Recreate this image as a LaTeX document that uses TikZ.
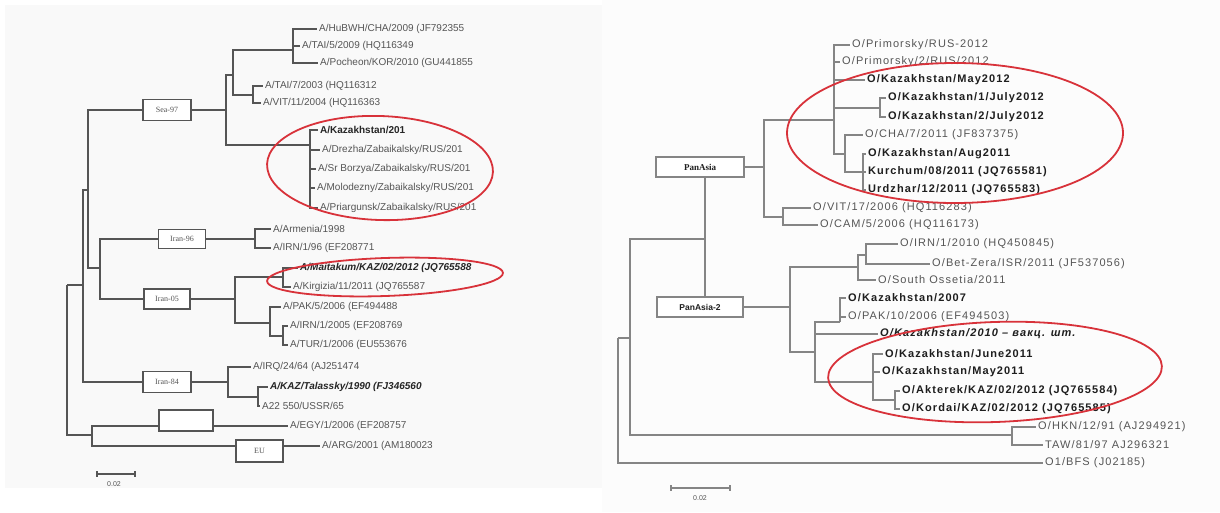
\documentclass[tikz,border=0pt]{standalone}
\usepackage{fontspec}
\setmainfont{Liberation Sans}
\newfontfamily\rfont{Liberation Sans}[LetterSpace=10]
\newfontfamily\sfont{Liberation Serif}
\definecolor{lg}{HTML}{555555}
\definecolor{rl}{HTML}{858585}
\definecolor{rt}{HTML}{555555}
\definecolor{rb}{HTML}{1E1E1E}
\definecolor{ered}{HTML}{D8323A}
\definecolor{bgl}{HTML}{F9F9F9}
\definecolor{bgr}{HTML}{FCFCFC}
\tikzset{
  lbr/.style={draw=lg, line width=1.5pt},
  rbr/.style={draw=rl, line width=1.2pt},
  lleaf/.style={anchor=west, inner xsep=2pt, inner ysep=0pt, text=lg, font=\fontsize{10}{11}\selectfont},
  lbold/.style={lleaf, text=black!85, font=\fontsize{10}{11}\selectfont\bfseries},
  lbit/.style={lleaf, text=black!85, font=\fontsize{10}{11}\selectfont\bfseries\itshape},
  rleaf/.style={anchor=west, inner xsep=2pt, inner ysep=0pt, text=rt, font=\rfont\fontsize{11}{12}\selectfont},
  rbold/.style={rleaf, text=rb, font=\rfont\fontsize{11}{12}\selectfont\bfseries},
  rbit/.style={rleaf, text=rb, font=\rfont\fontsize{11}{12}\selectfont\bfseries\itshape},
  lbox/.style={draw=lg, line width=1.5pt, fill=white, inner sep=0pt, text=lg, font=\sfont\fontsize{8}{9}\selectfont},
  rbox/.style={draw=rl, line width=1.5pt, fill=white, inner sep=0pt, text=rb, font=\fontsize{8.5}{9}\selectfont\bfseries},
  oval/.style={draw=ered, line width=1.8pt},
  sclab/.style={inner sep=0pt, text=rt, font=\fontsize{7}{8}\selectfont}
}
\begin{document}
\begin{tikzpicture}[x=1pt,y=-1pt]
\useasboundingbox (0,0) rectangle (1220,512);
\fill[bgl] (5,5) rectangle (602,488);
\fill[bgr] (602,0) rectangle (1220,512);

% ================= LEFT TREE =================
\node[lleaf] (hubwh) at (317,29) {A/HuBWH/CHA/2009 (JF792355};
\node[lleaf] (tai5) at (300,46) {A/TAI/5/2009 (HQ116349};
\node[lleaf] (poch) at (318,63) {A/Pocheon/KOR/2010 (GU441855};
\node[lleaf] (tai7) at (263,86) {A/TAI/7/2003 (HQ116312};
\node[lleaf] (vit11) at (261,103) {A/VIT/11/2004 (HQ116363};
\node[lbold] (kaz) at (318,130) {A/Kazakhstan/201};
\node[lleaf] (drez) at (320,150) {A/Drezha/Zabaikalsky/RUS/201};
\node[lleaf] (srb) at (316,169) {A/Sr Borzya/Zabaikalsky/RUS/201};
\node[lleaf] (molo) at (315,188) {A/Molodezny/Zabaikalsky/RUS/201};
\node[lleaf] (priar) at (318,208) {A/Priargunsk/Zabaikalsky/RUS/201};
\node[lleaf] (arm) at (271,229) {A/Armenia/1998};
\node[lleaf] (irn96) at (271,248) {A/IRN/1/96 (EF208771};
\node[lbit] (mait) at (298,268) {A/Maitakum/KAZ/02/2012 (JQ765588};
\node[lleaf] (kirg) at (291,287) {A/Kirgizia/11/2011 (JQ765587};
\node[lleaf] (pak5) at (281,307) {A/PAK/5/2006 (EF494488};
\node[lleaf] (irn05) at (288,326) {A/IRN/1/2005 (EF208769};
\node[lleaf] (tur) at (288,345) {A/TUR/1/2006 (EU553676};
\node[lleaf] (irq) at (251,367) {A/IRQ/24/64 (AJ251474};
\node[lbit] (kaztal) at (268,387) {A/KAZ/Talassky/1990 (FJ346560};
\node[lleaf] (a22) at (260,406) {A22 550/USSR/65};
\node[lleaf] (egy) at (288,426) {A/EGY/1/2006 (EF208757};
\node[lleaf] (arg) at (320,446) {A/ARG/2001 (AM180023};

\node[lbox, minimum width=48pt, minimum height=21pt] (sea) at (167,110) {Sea-97};
\node[lbox, minimum width=47pt, minimum height=19pt] (i96) at (182,239) {Iran-96};
\node[lbox, minimum width=46pt, minimum height=20pt] (i05) at (167,299) {Iran-05};
\node[lbox, minimum width=48pt, minimum height=21pt] (i84) at (167,382) {Iran-84};

\coordinate (LR) at (67,285);
\coordinate (L1) at (83,285);
\coordinate (L2) at (88,190);
\coordinate (L3) at (226,110);
\coordinate (L4) at (233,75);
\coordinate (L5) at (293,50);
\coordinate (L6) at (253,95);
\coordinate (L7) at (310,145);
\coordinate (L9) at (100,268);
\coordinate (L10) at (255,239);
\coordinate (L11) at (235,299);
\coordinate (L12) at (283,277);
\coordinate (L13) at (270,323);
\coordinate (L14) at (283,336);
\coordinate (L15) at (228,382);
\coordinate (L16) at (258,397);
\coordinate (L17) at (92,435);

\draw[lbr] (LR) -- (L1);
\draw[lbr] (LR) |- (L17);
\draw[lbr] (L1) |- (L2);
\draw[lbr] (L1) |- (i84.west);
\draw[lbr] (L2) |- (sea.west);
\draw[lbr] (L2) |- (L9);
\draw[lbr] (sea.east) -- (L3);
\draw[lbr] (L3) |- (L4);
\draw[lbr] (L3) |- (L7);
\draw[lbr] (L4) |- (L5);
\draw[lbr] (L4) |- (L6);
\draw[lbr] (L5) |- (hubwh.west);
\draw[lbr] (L5) |- (tai5.west);
\draw[lbr] (L5) |- (poch.west);
\draw[lbr] (L6) |- (tai7.west);
\draw[lbr] (L6) |- (vit11.west);
\foreach \n in {kaz,drez,srb,molo,priar} \draw[lbr] (L7) |- (\n.west);
\draw[lbr] (L9) |- (i96.west);
\draw[lbr] (L9) |- (i05.west);
\draw[lbr] (i96.east) -- (L10);
\draw[lbr] (L10) |- (arm.west);
\draw[lbr] (L10) |- (irn96.west);
\draw[lbr] (i05.east) -- (L11);
\draw[lbr] (L11) |- (L12);
\draw[lbr] (L11) |- (L13);
\draw[lbr] (L12) |- (mait.west);
\draw[lbr] (L12) |- (kirg.west);
\draw[lbr] (L13) |- (pak5.west);
\draw[lbr] (L13) |- (L14);
\draw[lbr] (L14) |- (irn05.west);
\draw[lbr] (L14) |- (tur.west);
\draw[lbr] (i84.east) -- (L15);
\draw[lbr] (L15) |- (irq.west);
\draw[lbr] (L15) |- (L16);
\draw[lbr] (L16) |- (kaztal.west);
\draw[lbr] (L16) |- (a22.west);
\draw[lbr] (L17) |- (egy.west);
\draw[lbr, line width=2.6pt] (L17) |- (arg.west);
\node[lbox, minimum width=54pt, minimum height=21pt] (emp) at (186,420.5) {};
\node[lbox, minimum width=47pt, minimum height=22pt] (eu) at (259.5,451) {EU};

\coordinate (sl1) at (97,474);
\coordinate (sl2) at (135,474);
\draw[draw=lg, line width=1.2pt] (sl1) -- (sl2);
\draw[draw=lg, line width=1.2pt] ([yshift=3pt]sl1) -- ([yshift=-3pt]sl1);
\draw[draw=lg, line width=1.2pt] ([yshift=3pt]sl2) -- ([yshift=-3pt]sl2);
\node[sclab, text=lg] (sll) at (114,484) {0.02};

\draw[oval, rotate around={-2:(380,168)}] (380,168) ellipse [x radius=113, y radius=52];
\draw[oval, rotate around={2:(385,277)}] (385,277) ellipse [x radius=118, y radius=19];

% ================= RIGHT TREE =================
\node[rleaf] (prim1) at (850,45) {O/Primorsky/RUS-2012};
\node[rleaf] (prim2) at (840,62) {O/Primorsky/2/RUS/2012};
\node[rbold] (may12) at (865,80) {O/Kazakhstan/May2012};
\node[rbold] (jul1) at (886,98) {O/Kazakhstan/1/July2012};
\node[rbold] (jul2) at (886,117) {O/Kazakhstan/2/July2012};
\node[rleaf] (cha) at (863,135) {O/CHA/7/2011 (JF837375)};
\node[rbold] (aug11) at (866,154) {O/Kazakhstan/Aug2011};
\node[rbold] (kurch) at (866,172) {Kurchum/08/2011 (JQ765581)};
\node[rbold] (urdz) at (866,190) {Urdzhar/12/2011 (JQ765583)};
\node[rleaf] (vit17) at (811,208) {O/VIT/17/2006 (HQ116283)};
\node[rleaf] (cam) at (818,225) {O/CAM/5/2006 (HQ116173)};
\node[rleaf] (irn10) at (898,244) {O/IRN/1/2010 (HQ450845)};
\node[rleaf] (betz) at (930,264) {O/Bet-Zera/ISR/2011 (JF537056)};
\node[rleaf] (osset) at (876,280) {O/South Ossetia/2011};
\node[rbold] (kaz07) at (846,298) {O/Kazakhstan/2007};
\node[rleaf] (pak10) at (846,317) {O/PAK/10/2006 (EF494503)};
\node[rbit] (kaz10) at (878,334) {O/Kazakhstan/2010 – вакц. шт.};
\node[rbold] (jun11) at (883,354) {O/Kazakhstan/June2011};
\node[rbold] (may11) at (880,372) {O/Kazakhstan/May2011};
\node[rbold] (akt) at (900,391) {O/Akterek/KAZ/02/2012 (JQ765584)};
\node[rbold] (kord) at (900,409) {O/Kordai/KAZ/02/2012 (JQ765585)};
\node[rleaf] (hkn) at (1036,427) {O/HKN/12/91 (AJ294921)};
\node[rleaf] (taw) at (1043,445) {TAW/81/97 AJ296321};
\node[rleaf] (bfs) at (1043,463) {O1/BFS (J02185)};

\node[rbox, minimum width=88pt, minimum height=20pt, font=\sfont\fontsize{9}{10}\selectfont\bfseries] (pa) at (700,167) {PanAsia};
\node[rbox, minimum width=86pt, minimum height=20pt] (pa2) at (700,307) {PanAsia-2};

\coordinate (RR) at (618,338);
\coordinate (R1) at (630,338);
\coordinate (R2) at (705,239);
\coordinate (R3) at (764,167);
\coordinate (R4) at (834,120);
\coordinate (R5) at (880,108);
\coordinate (R6) at (845,154);
\coordinate (R7) at (863,172);
\coordinate (R8) at (783,217);
\coordinate (R9) at (790,307);
\coordinate (R10) at (858,267);
\coordinate (R11) at (866,255);
\coordinate (R12) at (815,352);
\coordinate (R13) at (840,322);
\coordinate (R14) at (873,382);
\coordinate (R15) at (895,400);
\coordinate (R16) at (1012,435);

\draw[rbr] (RR) -- (R1);
\draw[rbr] (RR) |- (bfs.west);
\draw[rbr] (R1) |- (R2);
\draw[rbr, line width=2.2pt] (R1) |- (R16);
\draw[rbr] (pa.south -| R2) -- (pa2.north -| R2);
\draw[rbr] (pa.east) -- (R3);
\draw[rbr] (R3) |- (R4);
\draw[rbr] (R3) |- (R8);
\draw[rbr] (R4) |- (prim1.west);
\draw[rbr] (R4) |- (prim2.west);
\draw[rbr] (R4) |- (may12.west);
\draw[rbr] (R4) |- (R5);
\draw[rbr] (R4) |- (R6);
\draw[rbr] (R5) |- (jul1.west);
\draw[rbr] (R5) |- (jul2.west);
\draw[rbr] (R6) |- (cha.west);
\draw[rbr] (R6) |- (R7);
\draw[rbr] (R7) |- (aug11.west);
\draw[rbr] (R7) |- (kurch.west);
\draw[rbr] (R7) |- (urdz.west);
\draw[rbr] (R8) |- (vit17.west);
\draw[rbr] (R8) |- (cam.west);
\draw[rbr] (pa2.east) -- (R9);
\draw[rbr] (R9) |- (R10);
\draw[rbr] (R9) |- (R12);
\draw[rbr] (R10) |- (R11);
\draw[rbr] (R10) |- (osset.west);
\draw[rbr] (R11) |- (irn10.west);
\draw[rbr] (R11) |- (betz.west);
\draw[rbr] (R12) |- (R13);
\draw[rbr] (R12) |- (kaz10.west);
\draw[rbr] (R12) |- (R14);
\draw[rbr] (R13) |- (kaz07.west);
\draw[rbr] (R13) |- (pak10.west);
\draw[rbr] (R14) |- (jun11.west);
\draw[rbr] (R14) |- (may11.west);
\draw[rbr] (R14) |- (R15);
\draw[rbr] (R15) |- (akt.west);
\draw[rbr] (R15) |- (kord.west);
\draw[rbr] (R16) |- (hkn.west);
\draw[rbr] (R16) |- (taw.west);

\coordinate (sr1) at (671,488);
\coordinate (sr2) at (730,488);
\draw[draw=rl, line width=1.2pt] (sr1) -- (sr2);
\draw[draw=rl, line width=1.2pt] ([yshift=3pt]sr1) -- ([yshift=-3pt]sr1);
\draw[draw=rl, line width=1.2pt] ([yshift=3pt]sr2) -- ([yshift=-3pt]sr2);
\node[sclab] (srl) at (700,498) {0.02};

\draw[oval] (955,133) ellipse [x radius=168, y radius=70];
\draw[oval, rotate around={2:(995,372)}] (995,372) ellipse [x radius=167, y radius=50];
\end{tikzpicture}
\end{document}
